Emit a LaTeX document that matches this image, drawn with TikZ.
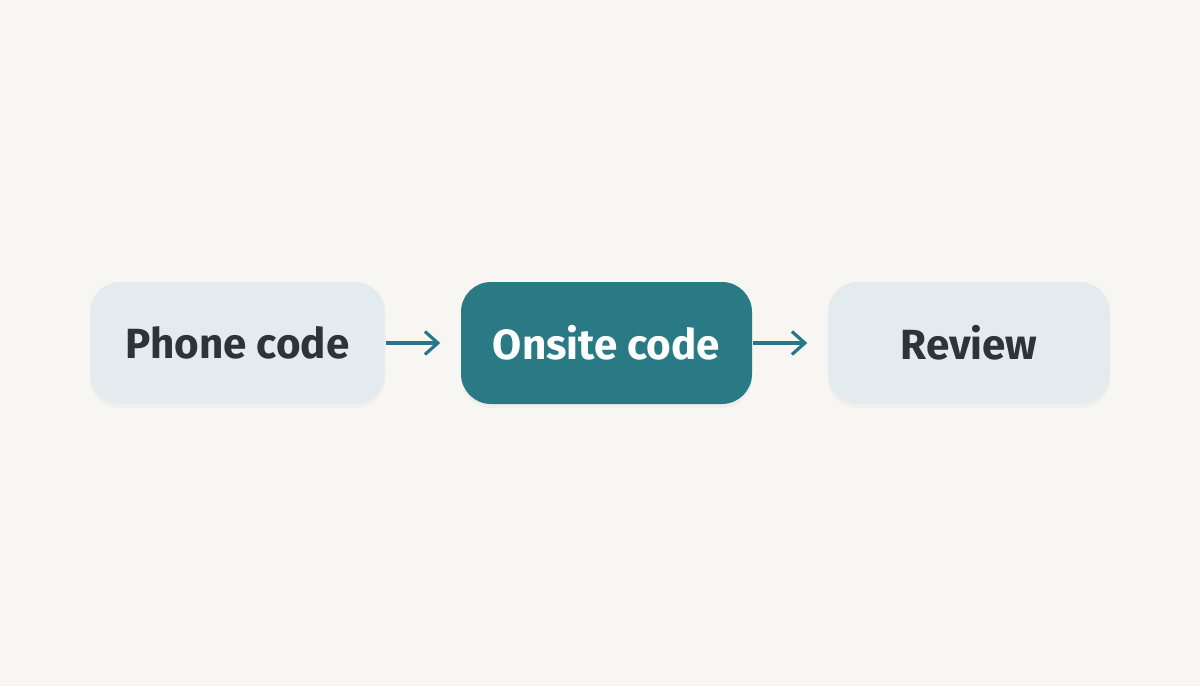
\documentclass[tikz,border=0pt]{standalone}
\usepackage{fontspec}
\setmainfont{Fira Sans}
\usetikzlibrary{arrows.meta,shadows}
\definecolor{pgbg}{RGB}{247,246,242}
\definecolor{pgpale}{RGB}{227,235,238}
\definecolor{pgteal}{RGB}{42,122,133}
\definecolor{pgink}{RGB}{45,52,56}
\definecolor{pgarrow}{RGB}{38,118,140}
\tikzset{
  stage/.style={rounded corners=0.3cm, fill=pgpale, align=center,
                minimum height=1.22cm, font=\bfseries\fontsize{12}{14}\selectfont,
                text=pgink,
                drop shadow={opacity=0.06, shadow xshift=0pt, shadow yshift=-0.04cm}},
  current/.style={stage, fill=pgteal, text=white},
  flow/.style={-{Straight Barb[length=1.3mm, width=2.3mm]}, line width=0.9pt,
               draw=pgarrow, shorten >=0.2cm}
}
\begin{document}
\begin{tikzpicture}
  \fill[pgbg] (0,0) rectangle (12,6.86);
  \useasboundingbox (0,0) rectangle (12,6.86);
  % three stages, left to right
  \node[stage, minimum width=2.95cm]   (phone)  at (2.375,3.43) {Phone code};
  \node[current, minimum width=2.91cm] (onsite) at (6.065,3.43) {Onsite code};
  \node[stage, minimum width=2.82cm]   (review) at (9.69,3.43)  {Review};

  \draw[flow] (phone) -- (onsite);
  \draw[flow] (onsite) -- (review);
\end{tikzpicture}
\end{document}
